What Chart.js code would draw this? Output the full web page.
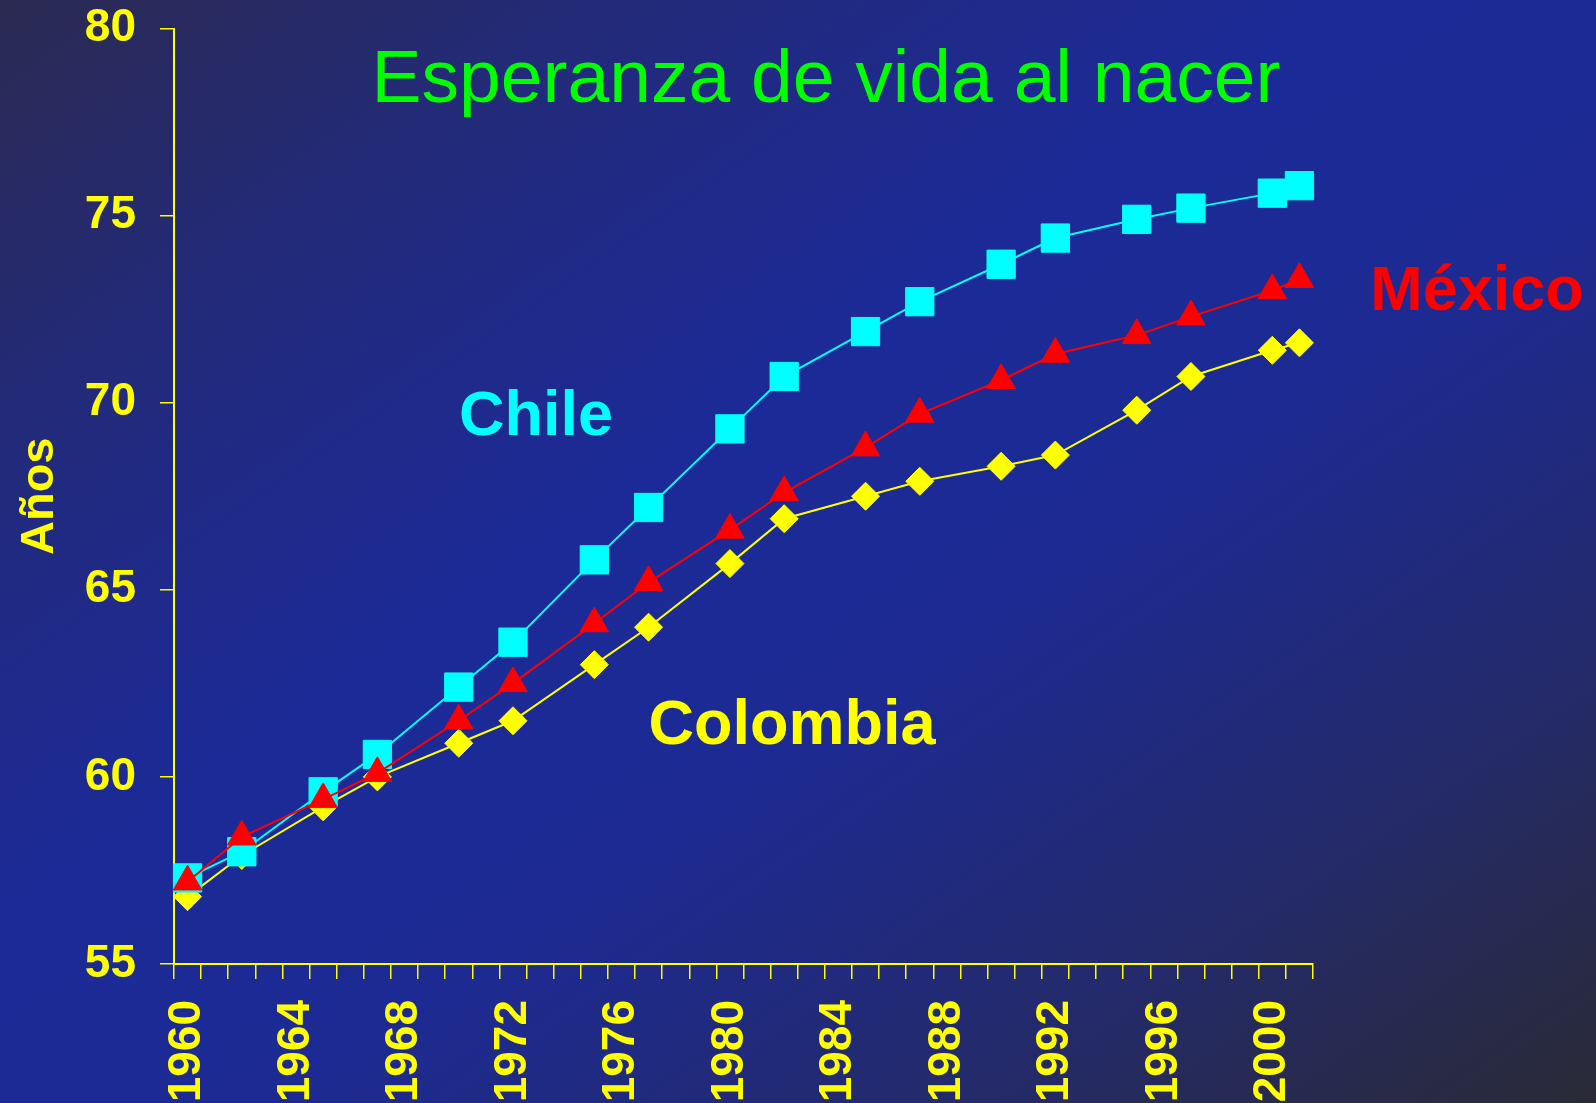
<!DOCTYPE html>
<html>
<head>
<meta charset="utf-8">
<title>Esperanza de vida al nacer</title>
<script src="https://cdn.jsdelivr.net/npm/chart.js@4/dist/chart.umd.min.js"></script>
<style>
  html, body { margin: 0; padding: 0; overflow: hidden; }
  body {
    width: 1596px;
    height: 1103px;
    background: linear-gradient(to bottom right, #2b2a52 0%, #232a7a 20%, #1c2a98 42%, #1d2a94 58%, #242a6a 80%, #2a2a36 100%);
  }
  canvas { display: block; }
</style>
</head>
<body>
<canvas id="lifeChart" width="1596" height="1103"></canvas>
<script>
var years = [1960, 1962, 1965, 1967, 1970, 1972, 1975, 1977, 1980, 1982, 1985, 1987, 1990, 1992, 1995, 1997, 2000, 2001];
var chile = [57.3, 58.0, 59.6, 60.6, 62.4, 63.6, 65.8, 67.2, 69.3, 70.7, 71.9, 72.7, 73.7, 74.4, 74.9, 75.2, 75.6, 75.8];
var mexico = [57.2, 58.4, 59.4, 60.1, 61.5, 62.5, 64.1, 65.2, 66.6, 67.6, 68.8, 69.7, 70.6, 71.3, 71.8, 72.3, 73.0, 73.3];
var colombia = [56.8, 57.9, 59.2, 60.0, 60.9, 61.5, 63.0, 64.0, 65.7, 66.9, 67.5, 67.9, 68.3, 68.6, 69.8, 70.7, 71.4, 71.6];
var yearTicks = ['1960', '1964', '1968', '1972', '1976', '1980', '1984', '1988', '1992', '1996', '2000'];

// one category per year, 1960..2001
var allYears = [];
for (var y = 1960; y <= 2001; y++) allYears.push(String(y));

function toPoints(values) {
    return years.map(function (yr, i) { return { x: String(yr), y: values[i] }; });
}

var FONT = 'Arial, "Liberation Sans", sans-serif';
var YELLOW = '#ffff00';

// titles written straight on the canvas, inside the plot
var textLabels = {
    id: 'textLabels',
    afterDatasetsDraw: function (chart) {
        var ctx = chart.ctx;
        ctx.save();
        ctx.textBaseline = 'alphabetic';
        ctx.textAlign = 'center';

        ctx.font = '75px ' + FONT;
        ctx.fillStyle = '#00ff00';
        ctx.fillText('Esperanza de vida al nacer', 826, 102);

        ctx.font = 'bold 63px ' + FONT;
        ctx.fillStyle = '#00ffff';
        ctx.fillText('Chile', 536, 435);
        ctx.fillStyle = YELLOW;
        ctx.fillText('Colombia', 792, 744);
        ctx.fillStyle = '#ff0000';
        ctx.fillText('México', 1477, 310);
        ctx.restore();
    }
};

Chart.defaults.font.family = FONT;

new Chart(document.getElementById('lifeChart'), {
    type: 'line',
    data: {
        labels: allYears,
        datasets: [
            {
                label: 'México',
                data: toPoints(mexico),
                borderColor: '#ff0000',
                backgroundColor: '#ff0000',
                borderWidth: 2,
                pointStyle: 'triangle',
                pointRadius: 16.5,
                pointBorderWidth: 1
            },
            {
                label: 'Chile',
                data: toPoints(chile),
                borderColor: '#00ffff',
                backgroundColor: '#00ffff',
                borderWidth: 2,
                pointStyle: 'rect',
                pointRadius: 20,
                pointBorderWidth: 1
            },
            {
                label: 'Colombia',
                data: toPoints(colombia),
                borderColor: YELLOW,
                backgroundColor: YELLOW,
                borderWidth: 2,
                pointStyle: 'rectRot',
                pointRadius: 14,
                pointBorderWidth: 1
            }
        ]
    },
    options: {
        responsive: false,
        animation: false,
        layout: { padding: { top: 28.5, right: 283, left: 0, bottom: 0 } },
        plugins: {
            legend: { display: false },
            tooltip: { enabled: false }
        },
        scales: {
            x: {
                type: 'category',
                offset: true,
                afterFit: function (scale) { scale.height = 139; },
                border: { color: YELLOW, width: 2 },
                grid: {
                    offset: true,
                    drawOnChartArea: false,
                    color: YELLOW,
                    lineWidth: 1.5,
                    tickLength: 15
                },
                ticks: {
                    autoSkip: false,
                    minRotation: 90,
                    maxRotation: 90,
                    padding: 21,
                    color: YELLOW,
                    font: { size: 46, weight: 'bold' },
                    callback: function (value) {
                        var lab = this.getLabelForValue(value);
                        return yearTicks.indexOf(lab) >= 0 ? lab : '';
                    }
                }
            },
            y: {
                min: 55,
                max: 80,
                // fixed width, and no extra room reserved above the "80" label
                afterFit: function (scale) {
                    scale.width = 174;
                    scale.paddingTop = 0;
                    scale.paddingBottom = 0;
                },
                border: { color: YELLOW, width: 2 },
                grid: {
                    drawOnChartArea: false,
                    color: YELLOW,
                    lineWidth: 1.5,
                    tickLength: 14
                },
                ticks: {
                    stepSize: 5,
                    padding: 24,
                    color: YELLOW,
                    font: { size: 46, weight: 'bold' }
                },
                title: {
                    display: true,
                    text: 'Años',
                    color: YELLOW,
                    font: { size: 47, weight: 'bold' },
                    padding: { top: 12, bottom: 0 }
                }
            }
        }
    },
    plugins: [textLabels]
});
</script>
</body>
</html>
